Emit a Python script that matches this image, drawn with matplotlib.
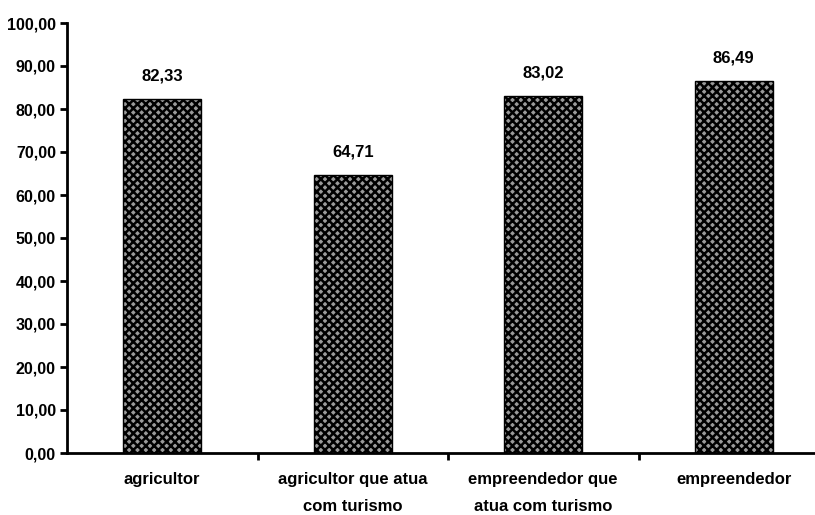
import matplotlib
matplotlib.use("Agg")
import matplotlib.pyplot as plt
from matplotlib.ticker import MultipleLocator, FuncFormatter

categories = ["agricultor", "agricultor que atua\ncom turismo",
              "empreendedor que\natua com turismo", "empreendedor"]
values = [82.33, 64.71, 83.02, 86.49]

plt.rcParams['font.family'] = ['Liberation Sans', 'DejaVu Sans']
plt.rcParams['font.weight'] = 'bold'
plt.rcParams['hatch.linewidth'] = 1.8
plt.rcParams['hatch.color'] = 'black'

W, H = 815, 515
fig = plt.figure(figsize=(W / 100, H / 100), dpi=100)
left, right = 67, 829
top, bottom = 23, 453
ax = fig.add_axes([left / W, (H - bottom) / H, (right - left) / W, (bottom - top) / H])

x = range(len(categories))
bars = ax.bar(x, values, width=0.41, color='#9a9a9a', edgecolor='black',
              linewidth=1.0, hatch='xxxx', zorder=2)

for xi, v in zip(x, values):
    ax.annotate(f"{v:.2f}".replace('.', ','), (xi, v), xytext=(0, 11),
                textcoords='offset points', ha='center', va='bottom',
                fontsize=12, fontweight='bold')

ax.set_xlim(-0.5, len(categories) - 0.5)
ax.set_ylim(0, 100)
ax.yaxis.set_major_locator(MultipleLocator(10))
ax.yaxis.set_major_formatter(FuncFormatter(lambda v, p: f"{v:.2f}".replace('.', ',')))

ax.set_xticks([i + 0.5 for i in range(len(categories) - 1)])
ax.set_xticklabels([])
ax.set_xticks(list(x), minor=True)
ax.set_xticklabels(categories, minor=True, fontsize=12, fontweight='bold',
                   linespacing=2.0)
ax.tick_params(axis='x', which='minor', length=0, pad=14)
ax.tick_params(axis='x', which='major', length=5, width=2, direction='out')
ax.tick_params(axis='y', length=5, width=2, direction='out', labelsize=11.5, pad=3)
for lab in ax.get_yticklabels():
    lab.set_fontweight('bold')

for s in ['top', 'right']:
    ax.spines[s].set_visible(False)
for s in ['left', 'bottom']:
    ax.spines[s].set_linewidth(2)

fig.savefig("out.png", dpi=100)
